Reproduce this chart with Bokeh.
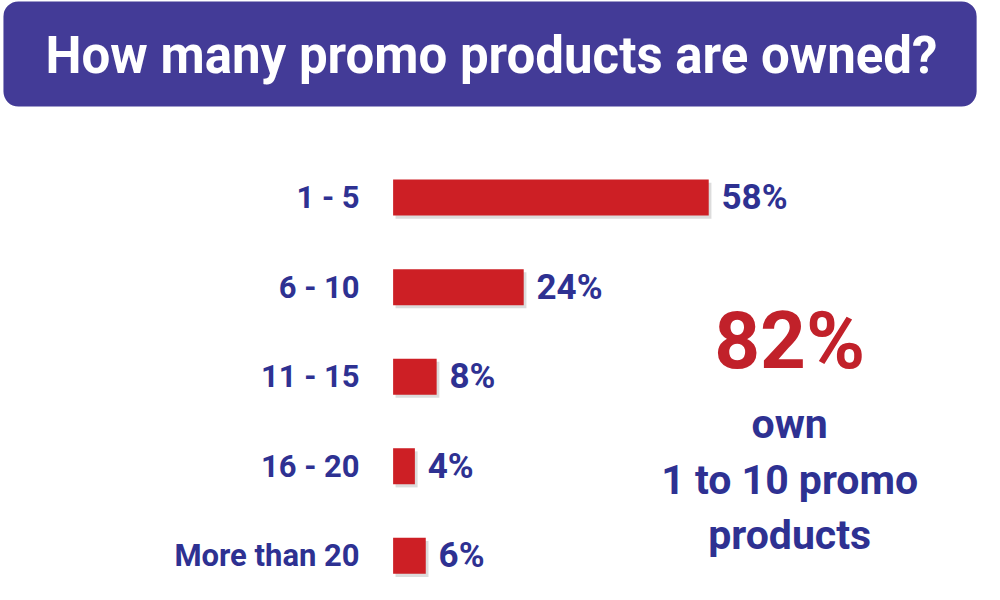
from bokeh.plotting import figure
from bokeh.models import Range1d, BoxAnnotation, ColumnDataSource
from bokeh.core.properties import value
from bokeh.embed import file_html
from bokeh.resources import INLINE

# ---- data ----
categories = ["1 - 5", "6 - 10", "11 - 15", "16 - 20", "More than 20"]
percents = [58, 24, 8, 4, 6]
value_labels = ["58%", "24%", "8%", "4%", "6%"]
title_text = "How many promo products are owned?"
headline = "82%"
sub_lines = ["own", "1 to 10 promo", "products"]

# ---- styling ----
FONT = "Roboto"
BLUE = "#2E3192"
BANNER = "#433B97"
RED = "#CD1F25"
RED_DARK = "#C1212A"

W, H = 984, 584
KX = W / 1000.0    # design (1000x600) -> canvas scale
KY = H / 600.0
SX = 5.53          # design pixels per percent
X0 = 399           # design pixel of 0 %
Y0 = 202.5         # design pixel of first row centre
DY = 92            # design pixels per row

def dx(refx):
    return (refx - X0) / SX

def dy(refy):
    return (refy - Y0) / DY

p = figure(width=W, height=H, output_backend="svg", toolbar_location=None,
           x_range=Range1d(dx(0), dx(1000)), y_range=Range1d(dy(600), dy(0)),
           min_border=0, outline_line_color=None, background_fill_color="white",
           border_fill_color="white")
p.axis.visible = False
p.grid.visible = False

# banner
p.add_layout(BoxAnnotation(left=dx(3), right=dx(992), top=dy(1), bottom=dy(109),
                           fill_color=BANNER, fill_alpha=1.0, line_alpha=0,
                           border_radius=15, level="underlay"))
p.text(x=[dx(499)], y=[dy(57)], text=[title_text], text_font=value(FONT),
       text_font_style="bold", text_font_size="51px", text_color="white",
       text_align="center", text_baseline="middle")

idx = list(range(len(categories)))
src = ColumnDataSource(dict(y=idx, v=percents, cat=categories, lab=value_labels,
                            ys=[i + 0.035 for i in idx],
                            vs=[v + 0.5 for v in percents]))

bh = 37 / DY
# soft shadow
p.hbar(y="ys", left=0.45, right="vs", height=bh, source=src,
       fill_color="#9a9a9a", fill_alpha=0.35, line_alpha=0)
p.hbar(y="y", left=0, right="v", height=bh, source=src,
       fill_color=RED, line_alpha=0)

p.text(x=0, y="y", text="cat", source=src, x_offset=-34 * KX, text_font=value(FONT),
       text_font_style="bold", text_font_size="31px", text_color=BLUE,
       text_align="right", text_baseline="middle")
p.text(x="v", y="y", text="lab", source=src, x_offset=13 * KX, text_font=value(FONT),
       text_font_style="bold", text_font_size="35px", text_color=BLUE,
       text_align="left", text_baseline="middle")

# callout
p.text(x=[dx(802)], y=[dy(350)], text=[headline], text_font=value(FONT),
       text_font_style="bold", text_font_size="80px", text_color=RED_DARK,
       text_align="center", text_baseline="middle")
p.text(x=[dx(802)] * 3, y=[dy(435), dy(493), dy(549)], text=sub_lines,
       text_font=value(FONT), text_font_style="bold", text_font_size="41px",
       text_color=BLUE, text_align="center", text_baseline="middle")

open("out.html", "w").write(file_html(p, INLINE))
